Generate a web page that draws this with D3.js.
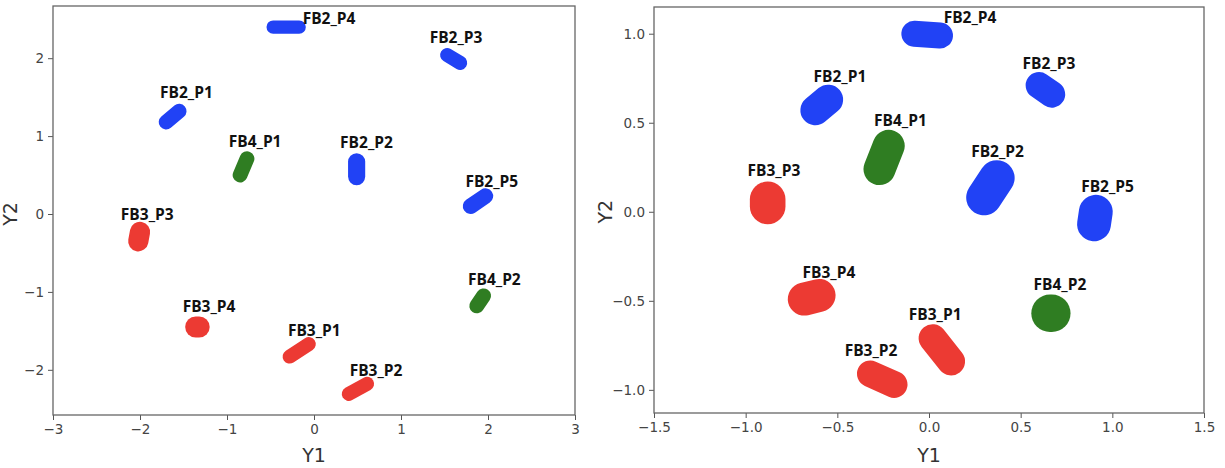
<!DOCTYPE html>
<html>
<head>
<meta charset="utf-8">
<title>Y1 / Y2 clusters</title>
<script src="https://cdn.jsdelivr.net/npm/d3@7"></script>
<style>
    body { margin: 0; background: #fff; }
    svg { display: block; }
    .tick text { font-family: "DejaVu Sans", sans-serif; font-size: 13.5px; fill: #444; }
    .tick line { stroke: #555; }
    .frame { fill: none; stroke: #666; stroke-width: 1.3px; }
    .axis-label { font-family: "DejaVu Sans", sans-serif; font-size: 19px; fill: #333; }
    .cl-label { font-family: "Open Sans", sans-serif; font-weight: 700; font-size: 15.5px; fill: #111; }
</style>
</head>
<body>
<svg id="chart" width="1225" height="468"></svg>
<script>
// cluster names (same order in both panels)
var names = ["FB2_P1", "FB2_P2", "FB2_P3", "FB2_P4", "FB2_P5",
             "FB3_P1", "FB3_P2", "FB3_P3", "FB3_P4", "FB4_P1", "FB4_P2"];
var group = ["FB2", "FB2", "FB2", "FB2", "FB2", "FB3", "FB3", "FB3", "FB3", "FB4", "FB4"];

// left panel: each cluster as a stretch from (ax,ay) to (bx,by) with a spread (data units)
var leftAx = [-1.70, 0.49, 1.53, -0.47, 1.80, -0.28, 0.40, -2.02, -1.36, -0.85, 1.87];
var leftAy = [ 1.18, 0.48, 2.04,  2.40, 0.10, -1.83, -2.31, -0.35, -1.45, 0.50, -1.18];
var leftBx = [-1.55, 0.49, 1.68, -0.17, 1.97, -0.06, 0.61, -2.00, -1.32, -0.77, 1.95];
var leftBy = [ 1.32, 0.67, 1.94,  2.40, 0.23, -1.67, -2.18, -0.23, -1.45, 0.71, -1.05];
var leftSpread = [0.095, 0.11, 0.09, 0.085, 0.10, 0.09, 0.09, 0.13, 0.135, 0.095, 0.095];
var leftLx = [-1.77, 0.30, 1.33, -0.13, 1.74, -0.30, 0.41, -2.22, -1.51, -0.98, 1.77];
var leftLy = [ 1.49, 0.85, 2.19,  2.44, 0.35, -1.56, -2.08, -0.08, -1.26, 0.86, -0.91];

// right panel
var rightAx = [-0.62, 0.30, 0.60, -0.08, 0.90, 0.02, -0.32, -0.88, -0.68, -0.27, 0.66];
var rightAy = [ 0.57, 0.08, 0.71,  1.00, -0.07, -0.71, -0.91, 0.07, -0.49, 0.24, -0.57];
var rightBx = [-0.55, 0.37, 0.67,  0.06, 0.91, 0.12, -0.19, -0.88, -0.60, -0.22, 0.67];
var rightBy = [ 0.63, 0.19, 0.66,  0.99, 0.00, -0.84, -0.97, 0.03, -0.47, 0.37, -0.57];
var rightSpread = [0.084, 0.10, 0.075, 0.073, 0.095, 0.079, 0.075, 0.10, 0.093, 0.09, 0.105];
var rightLx = [-0.63, 0.23, 0.51, 0.08, 0.83, -0.11, -0.46, -0.99, -0.69, -0.30, 0.57];
var rightLy = [ 0.73, 0.31, 0.80, 1.06, 0.11, -0.61, -0.81, 0.20, -0.37, 0.48, -0.44];

var leftXTicks = [-3, -2, -1, 0, 1, 2, 3];
var leftYTicks = [-2, -1, 0, 1, 2];
var rightXTicks = [-1.5, -1.0, -0.5, 0.0, 0.5, 1.0, 1.5];
var rightYTicks = [-1.0, -0.5, 0.0, 0.5, 1.0];

var colors = { FB2: "#2142f5", FB3: "#ec3a33", FB4: "#2f7d22" };

var svg = d3.select("#chart");
var minus = function (s) { return s.replace("-", "\u2212"); };

function panel(box, xDom, yDom, xTicks, yTicks, fmt, ax, ay, bx, by, spread, lx, ly) {
    var x = d3.scaleLinear().domain(xDom).range([box.left, box.right]);
    var y = d3.scaleLinear().domain(yDom).range([box.bottom, box.top]);
    var g = svg.append("g");

    var rows = names.map(function (n, i) {
        return { name: n, g: group[i], ax: ax[i], ay: ay[i], bx: bx[i], by: by[i], s: spread[i], lx: lx[i], ly: ly[i] };
    });

    // cluster blobs
    g.selectAll("line.blob")
        .data(rows)
        .enter()
        .append("line")
        .attr("class", "blob")
        .attr("x1", function (d) { return x(d.ax); })
        .attr("y1", function (d) { return y(d.ay); })
        .attr("x2", function (d) { return x(d.bx); })
        .attr("y2", function (d) { return y(d.by); })
        .attr("stroke", function (d) { return colors[d.g]; })
        .attr("stroke-width", function (d) { return 2 * (y(0) - y(d.s)); })
        .attr("stroke-linecap", "round");

    g.selectAll("text.cl-label")
        .data(rows)
        .enter()
        .append("text")
        .attr("class", "cl-label")
        .attr("x", function (d) { return x(d.lx); })
        .attr("y", function (d) { return y(d.ly); })
        .text(function (d) { return d.name; });

    // axes
    g.append("g")
        .attr("transform", "translate(0," + box.bottom + ")")
        .call(d3.axisBottom(x).tickValues(xTicks).tickSize(5).tickPadding(4)
            .tickFormat(function (d) { return minus(fmt(d)); }))
        .call(function (s) { s.select(".domain").remove(); });
    g.append("g")
        .attr("transform", "translate(" + box.left + ",0)")
        .call(d3.axisLeft(y).tickValues(yTicks).tickSize(5).tickPadding(4)
            .tickFormat(function (d) { return minus(fmt(d)); }))
        .call(function (s) { s.select(".domain").remove(); });

    g.append("rect")
        .attr("class", "frame")
        .attr("x", box.left)
        .attr("y", box.top)
        .attr("width", box.right - box.left)
        .attr("height", box.bottom - box.top);

    g.append("text")
        .attr("class", "axis-label")
        .attr("x", (box.left + box.right) / 2)
        .attr("y", 462)
        .attr("text-anchor", "middle")
        .text("Y1");
    g.append("text")
        .attr("class", "axis-label")
        .attr("transform", "translate(" + box.yLabelX + "," + y(0) + ") rotate(-90)")
        .attr("text-anchor", "middle")
        .text("Y2");
}

panel({ left: 53, right: 575, top: 6, bottom: 415, yLabelX: 17 },
      [-3, 3], [-2.58, 2.67], leftXTicks, leftYTicks, d3.format("d"),
      leftAx, leftAy, leftBx, leftBy, leftSpread, leftLx, leftLy);

panel({ left: 654, right: 1204, top: 7, bottom: 413, yLabelX: 612 },
      [-1.5, 1.5], [-1.13, 1.15], rightXTicks, rightYTicks, d3.format(".1f"),
      rightAx, rightAy, rightBx, rightBy, rightSpread, rightLx, rightLy);
</script>
</body>
</html>
